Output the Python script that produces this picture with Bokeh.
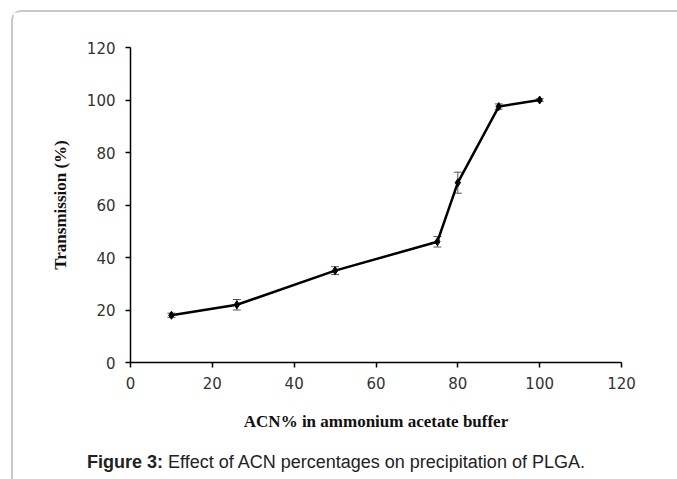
from bokeh.plotting import figure
from bokeh.layouts import column
from bokeh.models import ColumnDataSource, Whisker, TeeHead, FixedTicker, Div
from bokeh.embed import file_html
from bokeh.resources import INLINE

# ---- data ----
acn = [10, 26, 50, 75, 80, 90, 100]
transmission = [18, 22, 35, 46, 68.5, 97.5, 100]
error = [0.8, 2, 1.5, 2, 4, 1, 0.5]
x_ticks = [0, 20, 40, 60, 80, 100, 120]
y_ticks = [0, 20, 40, 60, 80, 100, 120]
x_title = "ACN% in ammonium acetate buffer"
y_title = "Transmission (%)"
caption_bold = "Figure 3:"
caption_text = "Effect of ACN percentages on precipitation of PLGA."

src = ColumnDataSource(dict(
    x=acn,
    y=transmission,
    lo=[t - e for t, e in zip(transmission, error)],
    hi=[t + e for t, e in zip(transmission, error)],
))

p = figure(width=664, height=428, x_range=(0, 120), y_range=(0, 120),
           output_backend="svg", toolbar_location=None,
           min_border_left=117, min_border_right=56,
           min_border_top=35, min_border_bottom=78)

p.outline_line_color = None
p.grid.visible = False
p.background_fill_color = "white"
p.border_fill_color = "white"

err = Whisker(base="x", upper="hi", lower="lo", source=src,
              line_color="#555555", line_width=1,
              upper_head=TeeHead(size=8, line_color="#555555", line_width=1),
              lower_head=TeeHead(size=8, line_color="#555555", line_width=1))
p.add_layout(err)

p.line("x", "y", source=src, line_color="black", line_width=2.5)
p.scatter("x", "y", source=src, marker="diamond", size=8, color="black")

for ax, ticks in ((p.xaxis[0], x_ticks), (p.yaxis[0], y_ticks)):
    ax.ticker = FixedTicker(ticks=ticks)
    ax.axis_line_color = "black"
    ax.axis_line_width = 1.5
    ax.major_tick_line_color = "black"
    ax.major_tick_line_width = 1.5
    ax.major_tick_out = 5
    ax.major_tick_in = 0
    ax.minor_tick_line_color = None
    ax.major_label_text_font = "DejaVu Sans"
    ax.major_label_text_font_size = "15px"
    ax.major_label_text_color = "#333333"
    ax.axis_label_text_font = "Liberation Serif"
    ax.axis_label_text_font_style = "bold"
    ax.axis_label_text_font_size = "17px"
    ax.axis_label_text_color = "#111111"

p.xaxis.axis_label = x_title
p.yaxis.axis_label = y_title
p.xaxis.major_label_standoff = 9
p.yaxis.major_label_standoff = 10
p.xaxis.axis_label_standoff = 20
p.yaxis.axis_label_standoff = 14

cap = Div(
    text=(f'<div style="padding-left:69px;padding-top:5px;'
          f'font-family:\'Liberation Sans\';font-size:18px;color:#222222;white-space:nowrap;">'
          f'<b>{caption_bold}</b> {caption_text}</div>'),
    width=664, height=31,
)

layout = column(p, cap, spacing=0)
layout.styles = {"border-top": "2px solid #c8c8c8", "border-left": "2px solid #c8c8c8",
                 "border-top-left-radius": "10px", "margin-left": "11px", "margin-top": "10px"}

open("out.html", "w").write(file_html(layout, INLINE))
